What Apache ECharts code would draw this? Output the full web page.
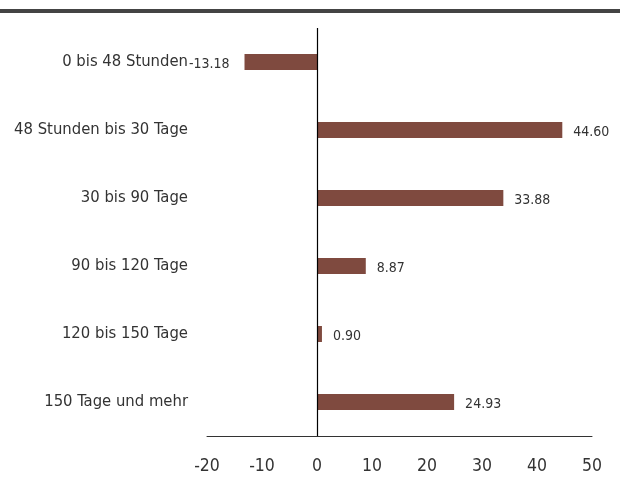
<!DOCTYPE html>
<html><head><meta charset="utf-8">
<script src="https://cdn.jsdelivr.net/npm/echarts@6/dist/echarts.min.js"></script>
<style>html,body{margin:0;padding:0;background:#fff}#c{width:620px;height:477px}</style>
</head><body><div id="c"></div>
<script>
const categories = ["0 bis 48 Stunden", "48 Stunden bis 30 Tage", "30 bis 90 Tage", "90 bis 120 Tage", "120 bis 150 Tage", "150 Tage und mehr"];
const values = [-13.18, 44.60, 33.88, 8.87, 0.90, 24.93];
const xTicks = [-20, -10, 0, 10, 20, 30, 40, 50];
const FONT = '"DejaVu Sans Condensed", sans-serif';
const chart = echarts.init(document.getElementById('c'));
chart.setOption({
  animation: false,
  graphic: [{type: 'rect', left: 0, top: 9, shape: {width: 620, height: 4}, style: {fill: '#444'}}],
  grid: {left: 207, right: 28, top: 28, bottom: 41},
  xAxis: {
    type: 'value', min: xTicks[0], max: xTicks[xTicks.length - 1], interval: 10,
    axisLine: {show: true, onZero: false, lineStyle: {color: '#333', width: 1}},
    axisTick: {show: false}, splitLine: {show: false},
    axisLabel: {color: '#333', fontSize: 17.5, fontFamily: FONT, margin: 21}
  },
  yAxis: {
    type: 'category', inverse: true, data: categories,
    axisLine: {show: false}, axisTick: {show: false},
    axisLabel: {color: '#333', fontSize: 16.5, fontFamily: FONT, margin: 19}
  },
  series: [{
    type: 'bar', barWidth: 16,
    itemStyle: {color: '#7f4a3f'},
    data: values.map(v => ({
      value: v,
      label: {show: true, position: v < 0 ? 'left' : 'right', distance: v < 0 ? 15 : 11,
        offset: [0, 2],
        formatter: p => p.value.toFixed(2), color: '#333', fontSize: 14, fontFamily: FONT}
    })),
    markLine: {
      silent: true, symbol: 'none', label: {show: false},
      lineStyle: {color: '#000', type: 'solid', width: 1.2},
      data: [{xAxis: 0}]
    }
  }]
});
</script></body></html>
